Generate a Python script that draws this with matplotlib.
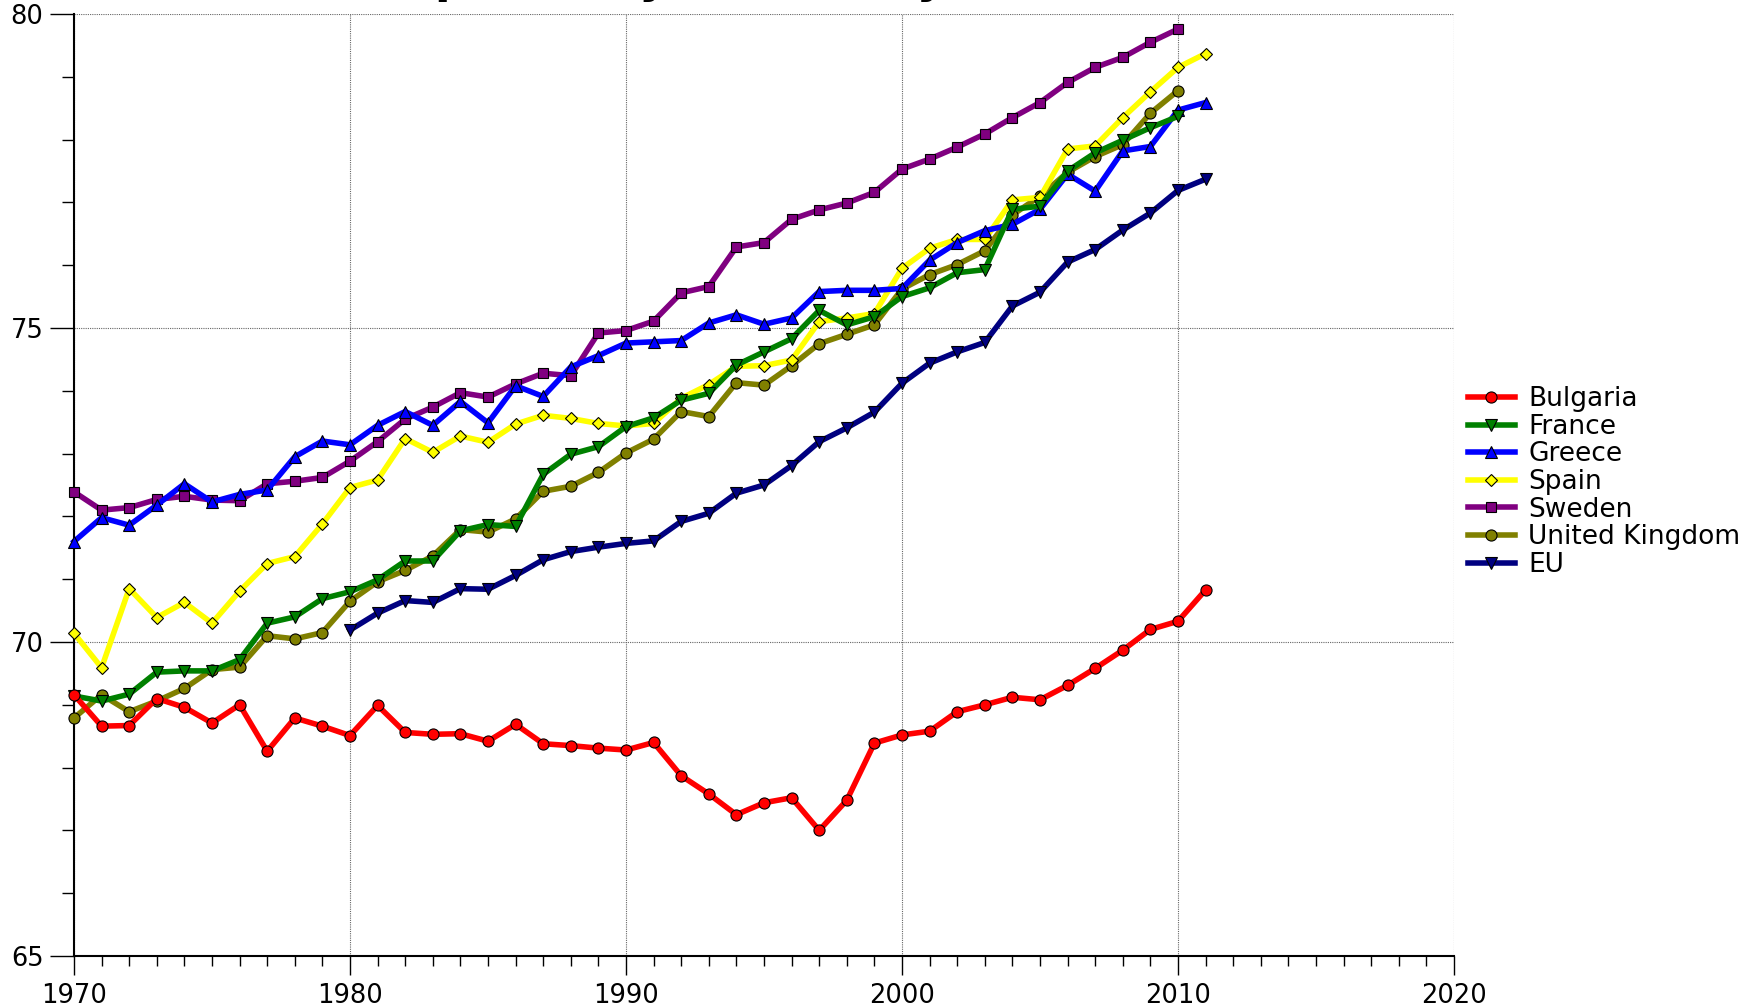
import matplotlib
matplotlib.use('Agg')
import matplotlib.pyplot as plt
from matplotlib.ticker import MultipleLocator

# ---------------- data ----------------
years = list(range(1970, 2012))          # 1970..2011
years_to2010 = list(range(1970, 2011))   # 1970..2010
eu_years = list(range(1980, 2012))       # 1980..2011

bulgaria = [69.16, 68.66, 68.67, 69.10, 68.96, 68.71, 69.00, 68.26, 68.79, 68.66,
            68.51, 68.99, 68.56, 68.53, 68.54, 68.42, 68.69, 68.38, 68.35, 68.31,
            68.28, 68.40, 67.87, 67.58, 67.25, 67.44, 67.52, 67.00, 67.48, 68.39,
            68.52, 68.58, 68.89, 69.00, 69.12, 69.08, 69.31, 69.58, 69.87, 70.20,
            70.33, 70.83]
france = [69.14, 69.06, 69.17, 69.52, 69.54, 69.54, 69.72, 70.30, 70.40, 70.69,
          70.80, 70.99, 71.29, 71.29, 71.77, 71.87, 71.84, 72.67, 72.99, 73.11,
          73.43, 73.57, 73.85, 73.96, 74.41, 74.62, 74.83, 75.28, 75.05, 75.18,
          75.50, 75.64, 75.88, 75.93, 76.89, 76.94, 77.50, 77.79, 77.99, 78.19,
          78.37]
greece = [71.60, 71.98, 71.86, 72.18, 72.52, 72.23, 72.35, 72.42, 72.95, 73.20,
          73.14, 73.45, 73.67, 73.45, 73.83, 73.49, 74.08, 73.91, 74.38, 74.56,
          74.76, 74.78, 74.80, 75.08, 75.21, 75.06, 75.16, 75.58, 75.60, 75.60,
          75.63, 76.08, 76.36, 76.55, 76.65, 76.89, 77.45, 77.18, 77.82, 77.89,
          78.47, 78.59]
spain = [70.14, 69.59, 70.85, 70.39, 70.63, 70.30, 70.81, 71.25, 71.36, 71.88,
         72.46, 72.58, 73.24, 73.02, 73.28, 73.18, 73.47, 73.61, 73.56, 73.48,
         73.44, 73.48, 73.88, 74.10, 74.39, 74.40, 74.49, 75.10, 75.16, 75.23,
         75.95, 76.27, 76.41, 76.41, 77.04, 77.08, 77.85, 77.90, 78.35, 78.76,
         79.15, 79.37]
sweden = [72.39, 72.10, 72.14, 72.27, 72.32, 72.26, 72.25, 72.52, 72.56, 72.62,
          72.88, 73.19, 73.55, 73.74, 73.97, 73.90, 74.11, 74.28, 74.24, 74.92,
          74.96, 75.11, 75.56, 75.66, 76.29, 76.36, 76.73, 76.88, 76.99, 77.16,
          77.53, 77.69, 77.88, 78.09, 78.35, 78.59, 78.91, 79.15, 79.31, 79.55,
          79.76]
uk = [68.79, 69.16, 68.89, 69.06, 69.26, 69.56, 69.60, 70.10, 70.05, 70.15,
      70.65, 70.96, 71.14, 71.37, 71.79, 71.75, 71.96, 72.40, 72.48, 72.70,
      73.01, 73.23, 73.67, 73.59, 74.13, 74.09, 74.40, 74.75, 74.90, 75.05,
      75.62, 75.85, 76.01, 76.23, 76.80, 77.10, 77.48, 77.73, 77.92, 78.42,
      78.78]
eu = [70.19, 70.46, 70.66, 70.63, 70.85, 70.84, 71.06, 71.31, 71.44, 71.51,
      71.57, 71.61, 71.92, 72.05, 72.37, 72.50, 72.81, 73.19, 73.41, 73.66,
      74.12, 74.44, 74.62, 74.77, 75.35, 75.57, 76.05, 76.25, 76.56, 76.83,
      77.19, 77.37]

labels = ["Bulgaria", "France", "Greece", "Spain", "Sweden", "United Kingdom", "EU"]
title = "Life expectancy at birth (years), males"
x_ticks = [1970, 1980, 1990, 2000, 2010, 2020]
y_ticks = [65, 70, 75, 80]

# ---------------- figure ----------------
plt.rcParams['font.family'] = ['DejaVu Sans']
W, H = 1754, 1006
fig = plt.figure(figsize=(W / 100, H / 100), dpi=100)
ax = fig.add_axes([74 / W, 1 - 956 / H, (1454 - 74) / W, (956 - 14) / H])

series = [
    (years, bulgaria, '#FF0000', 'o', 8.0),
    (years_to2010, france, '#008000', 'v', 9.0),
    (years, greece, '#0000FF', '^', 9.0),
    (years, spain, '#FFFF00', 'D', 6.3),
    (years_to2010, sweden, '#800080', 's', 7.5),
    (years_to2010, uk, '#808000', 'o', 8.0),
    (eu_years, eu, '#000080', 'v', 9.0),
]

handles = []
n = len(series)
for i, ((xs, ys, col, mk, ms), lab) in enumerate(zip(series, labels)):
    h, = ax.plot(xs, ys, color=col, linewidth=4.0, marker=mk, markersize=ms,
                 markerfacecolor=col, markeredgecolor='black', markeredgewidth=0.8,
                 label=lab, zorder=3 + (n - i) * 0.1, clip_on=False)
    handles.append(h)

ax.set_xlim(1970, 2020)
ax.set_ylim(65, 80)
ax.set_xticks(x_ticks)
ax.set_yticks(y_ticks)
ax.xaxis.set_minor_locator(MultipleLocator(1))
ax.yaxis.set_minor_locator(MultipleLocator(1))

ax.tick_params(axis='y', which='major', direction='out', length=17, width=1.0, pad=5, labelsize=18.5)
ax.tick_params(axis='y', which='minor', direction='out', length=8.6, width=1.0)
ax.tick_params(axis='x', which='major', direction='out', length=13.7, width=1.0, pad=6, labelsize=18.5)
ax.tick_params(axis='x', which='minor', direction='out', length=7, width=1.0)

ax.grid(which='major', linestyle=(0, (1, 1)), color='#666666', linewidth=0.8, zorder=1)
ax.set_axisbelow(True)
for s in ['top', 'right']:
    ax.spines[s].set_visible(False)
for s in ['left', 'bottom']:
    ax.spines[s].set_linewidth(1.5)
    ax.spines[s].set_color('black')

fig.legend(handles=handles, labels=labels, loc='center left',
           bbox_to_anchor=(1468 / W, 1 - 482 / H), bbox_transform=fig.transFigure,
           frameon=False, fontsize=19, borderpad=0, borderaxespad=0,
           handlelength=1.78, handletextpad=0.5, labelspacing=0.06, numpoints=1)

fig.text(764 / W, 1 + 7.5 / H, title, ha='center', va='baseline',
         fontsize=33, fontweight='bold')

fig.savefig('out.png', dpi=100)
